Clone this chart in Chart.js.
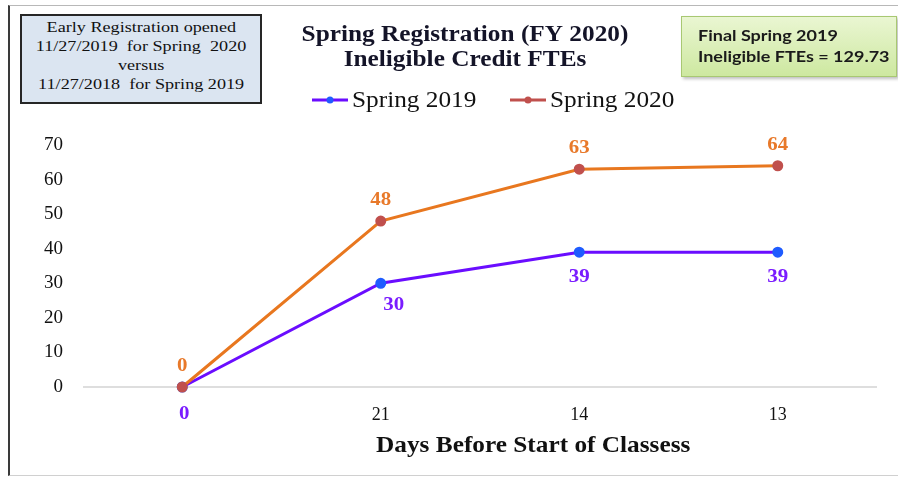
<!DOCTYPE html>
<html>
<head>
<meta charset="utf-8">
<script src="https://cdn.jsdelivr.net/npm/chart.js@4.4.1/dist/chart.umd.min.js"></script>
<style>
  body { margin: 0; background: #fff; }
  #wrap { position: relative; width: 898px; height: 478px; overflow: hidden; }
  #frame { position: absolute; left: 8px; top: 5px; width: 900px; height: 469px;
           border-left: 2px solid #3a3a3a; border-top: 1px solid #b8b8b8; border-bottom: 1px solid #d0d0d0; }
  #note { position: absolute; left: 20px; top: 14px; width: 238px; height: 84px;
          background: #dbe5f1; border: 2px solid #262626;
          font-family: "Liberation Serif", serif; font-size: 15px; line-height: 19px;
          text-align: center; color: #111; padding-top: 2px; box-sizing: content-box; }
  #note span { display: inline-block; transform: scaleX(1.21); white-space: pre; }
  #final { position: absolute; left: 681px; top: 16px; width: 216px; height: 61px;
           background: linear-gradient(#eaf6d2, #cde8a0); border: 1px solid #a8c872;
           box-shadow: 2px 2px 3px rgba(0,0,0,0.25);
           font-family: Lato, sans-serif; font-weight: bold; font-size: 15px; line-height: 21px;
           color: #1a1a1a; padding: 8px 0 0 16px; box-sizing: border-box; }
  #final span { display: inline-block; transform: scaleX(1.2); transform-origin: left center; white-space: pre; }
  canvas { position: absolute; left: 0; top: 0; }
</style>
</head>
<body>
<div id="wrap">
  <div id="frame"></div>
  <canvas id="fteChart" width="898" height="478"></canvas>
  <div id="note"><span>Early Registration opened</span><br><span>11/27/2019  for Spring  2020</span><br><span>versus</span><br><span>11/27/2018  for Spring 2019</span></div>
  <div id="final"><span>Final Spring 2019</span><br><span>Ineligible FTEs = 129.73</span></div>
</div>
<script>
const days = ['0', '21', '14', '13'];
const spring2019 = [0, 30, 39, 39];
const spring2020 = [0, 48, 63, 64];
const yTicks = [0, 10, 20, 30, 40, 50, 60, 70];

const titleLines = ['Spring Registration (FY 2020)', 'Ineligible Credit FTEs'];
const xTitle = 'Days Before Start of Classess';

const serif = '"Liberation Serif", "Times New Roman", serif';

// the source picture is a little wider than tall, so text is stretched sideways
function wideText(ctx, text, x, y, sx) {
    ctx.save();
    ctx.translate(x, y);
    ctx.scale(sx, 1);
    ctx.fillText(text, 0, 0);
    ctx.restore();
}

// title, legend, value labels and x title, drawn on the canvas
const extrasPlugin = {
    id: 'extras',
    afterDraw(chart) {
        const ctx = chart.ctx;
        const area = chart.chartArea;
        ctx.save();

        // title
        ctx.fillStyle = '#141428';
        ctx.font = 'bold 23px ' + serif;
        ctx.textAlign = 'center';
        ctx.textBaseline = 'middle';
        wideText(ctx, titleLines[0], 465, 35, 1.1);
        wideText(ctx, titleLines[1], 465, 60, 1.1);

        // legend
        ctx.font = '23px ' + serif;
        ctx.textAlign = 'left';
        const legendX = [312, 510];
        chart.data.datasets.forEach((ds, i) => {
            const x = legendX[i];
            const y = 100;
            ctx.strokeStyle = ds.legendColor;
            ctx.lineWidth = 3;
            ctx.beginPath();
            ctx.moveTo(x, y);
            ctx.lineTo(x + 36, y);
            ctx.stroke();
            ctx.fillStyle = ds.pointBackgroundColor;
            ctx.beginPath();
            ctx.arc(x + 18, y, 3.5, 0, Math.PI * 2);
            ctx.fill();
            ctx.fillStyle = '#111';
            wideText(ctx, ds.label, x + 40, y + 1, 1.1);
        });

        // value labels
        ctx.font = 'bold 19px ' + serif;
        ctx.textAlign = 'center';
        chart.data.datasets.forEach((ds, i) => {
            const meta = chart.getDatasetMeta(i);
            ctx.fillStyle = ds.labelColor;
            meta.data.forEach((pt, j) => {
                let dx = 0;
                let dy = ds.labelAbove ? -21 : 25;
                if (!ds.labelAbove && j === 1) { dx = 13; dy = 22; }
                if (!ds.labelAbove && j === 0) { dx = 2; dy = 27; }
                wideText(ctx, String(ds.data[j]), pt.x + dx, pt.y + dy, 1.1);
            });
        });

        // x axis title
        ctx.fillStyle = '#111';
        ctx.font = 'bold 23px ' + serif;
        wideText(ctx, xTitle, area.left + (area.right - area.left) * 0.567, 446, 1.1);
        ctx.restore();
    }
};

new Chart(document.getElementById('fteChart'), {
    type: 'line',
    data: {
        labels: days,
        datasets: [
            {
                label: 'Spring 2019',
                data: spring2019,
                order: 2,
                borderColor: '#6a0dff',
                borderWidth: 3,
                pointBackgroundColor: '#1f5cff',
                pointBorderColor: '#1f5cff',
                pointRadius: 4,
                legendColor: '#6a0dff',
                labelColor: '#7a1cff',
                labelAbove: false
            },
            {
                label: 'Spring 2020',
                data: spring2020,
                order: 1,
                borderColor: '#e8771f',
                borderWidth: 3,
                pointBackgroundColor: '#c0504d',
                pointBorderColor: '#c0504d',
                pointRadius: 4,
                legendColor: '#c0504d',
                labelColor: '#e8792a',
                labelAbove: true
            }
        ]
    },
    options: {
        responsive: false,
        animation: false,
        clip: false,
        layout: { padding: { left: 0, right: 21, top: 145, bottom: 0 } },
        plugins: {
            legend: { display: false },
            title: { display: false },
            tooltip: { enabled: false }
        },
        scales: {
            x: {
                offset: true,
                grid: { display: false },
                border: { display: false },
                ticks: {
                    color: '#111',
                    font: { family: serif, size: 18 },
                    padding: 9,
                    // the first category is labelled by the purple value under it
                    callback: (v, i) => (i === 0 ? '' : days[i])
                },
                afterFit(scale) { scale.height = 91; }
            },
            y: {
                min: 0,
                max: 70,
                afterBuildTicks(scale) { scale.ticks = yTicks.map(v => ({ value: v })); },
                grid: {
                    drawTicks: false,
                    lineWidth: 2,
                    color: ctx => (ctx.tick && ctx.tick.value === 0 ? '#dedede' : 'rgba(0,0,0,0)')
                },
                border: { display: false },
                ticks: { color: '#111', font: { family: serif, size: 19 }, padding: 20 },
                afterFit(scale) { scale.width = 83; }
            }
        }
    },
    plugins: [extrasPlugin]
});
</script>
</body>
</html>
